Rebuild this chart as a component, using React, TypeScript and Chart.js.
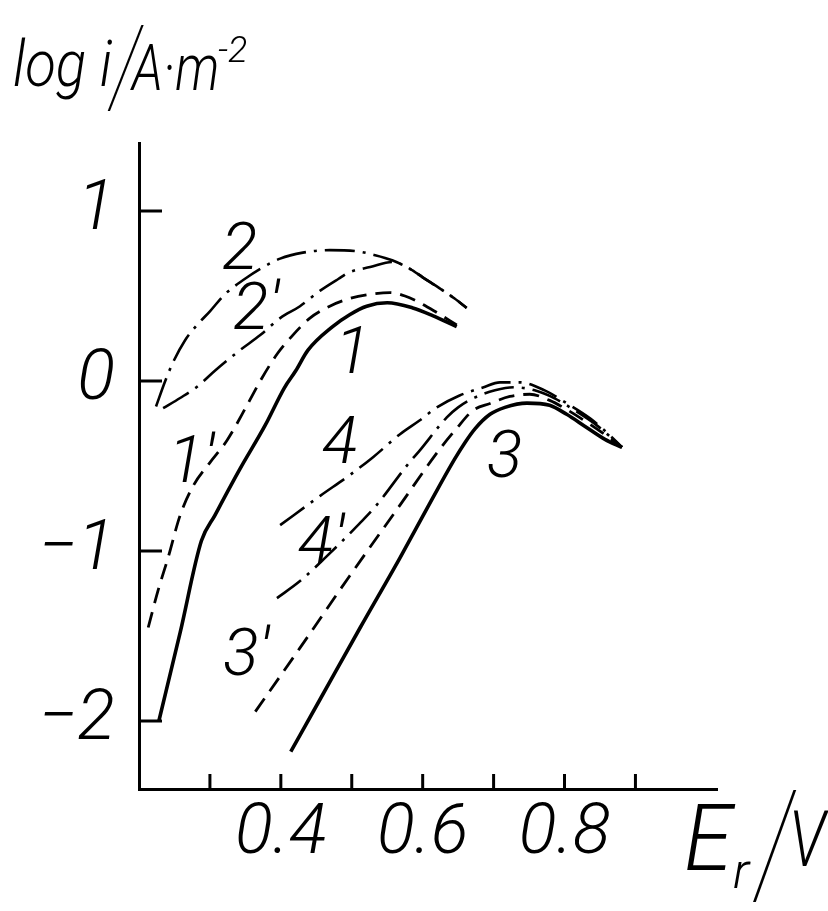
import React, { useEffect, useRef } from "react";
import { Chart, registerables } from "chart.js";

Chart.register(...registerables);

const FONT = "Roboto, 'DejaVu Sans', sans-serif";

// ---------- data (E_r / V  vs  log i / A·m^-2) ----------
// curve 1 (solid)
const curve1E = [0.228, 0.258, 0.288, 0.307, 0.342, 0.378, 0.405, 0.421, 0.438, 0.473, 0.497, 0.521, 0.55, 0.586, 0.614, 0.648];
const curve1Log = [-2.0, -1.48, -0.94, -0.79, -0.52, -0.26, -0.04, 0.06, 0.18, 0.32, 0.39, 0.44, 0.46, 0.43, 0.385, 0.32];

// curve 1' (dashed)
const curve1pE = [0.213, 0.227, 0.241, 0.258, 0.276, 0.3, 0.324, 0.354, 0.373, 0.395, 0.417, 0.441, 0.469, 0.497, 0.526, 0.554, 0.575, 0.596, 0.617, 0.648];
const curve1pLog = [-1.45, -1.23, -1.04, -0.79, -0.62, -0.48, -0.35, -0.13, 0.015, 0.16, 0.27, 0.37, 0.44, 0.485, 0.51, 0.52, 0.5, 0.46, 0.41, 0.33];

// curve 2 (dash-dot, upper)
const curve2E = [0.224, 0.237, 0.248, 0.265, 0.282, 0.3, 0.321, 0.349, 0.371, 0.399, 0.431, 0.469, 0.504, 0.533, 0.557, 0.582, 0.6, 0.624, 0.645, 0.662];
const curve2Log = [-0.15, 0.0, 0.11, 0.24, 0.33, 0.41, 0.51, 0.6, 0.66, 0.72, 0.755, 0.77, 0.765, 0.74, 0.71, 0.66, 0.61, 0.545, 0.485, 0.43];

// curve 2' (dash-dot, lower)
const curve2pE = [0.234, 0.258, 0.283, 0.307, 0.342, 0.371, 0.399, 0.427, 0.455, 0.481, 0.497, 0.526, 0.557, 0.582, 0.6, 0.624, 0.645, 0.662];
const curve2pLog = [-0.16, -0.1, -0.03, 0.06, 0.18, 0.27, 0.37, 0.44, 0.53, 0.6, 0.64, 0.67, 0.7, 0.66, 0.61, 0.545, 0.485, 0.43];

// curve 3 (solid)
const curve3E = [0.414, 0.455, 0.512, 0.568, 0.61, 0.645, 0.66, 0.674, 0.695, 0.716, 0.747, 0.779, 0.803, 0.829, 0.857, 0.881];
const curve3Log = [-2.18, -1.875, -1.45, -1.04, -0.72, -0.46, -0.36, -0.28, -0.196, -0.155, -0.13, -0.143, -0.196, -0.267, -0.343, -0.39];

// curve 3' (dashed)
const curve3pE = [0.364, 0.427, 0.497, 0.568, 0.624, 0.648, 0.671, 0.695, 0.723, 0.751, 0.779, 0.803, 0.836, 0.864, 0.881];
const curve3pLog = [-1.945, -1.57, -1.147, -0.73, -0.401, -0.278, -0.173, -0.132, -0.091, -0.078, -0.114, -0.168, -0.255, -0.337, -0.39];

// curve 4 (dash-dot, upper)
const curve4E = [0.399, 0.455, 0.497, 0.53, 0.568, 0.596, 0.62, 0.652, 0.685, 0.709, 0.737, 0.772, 0.803, 0.836, 0.864, 0.881];
const curve4Log = [-0.848, -0.677, -0.554, -0.448, -0.313, -0.231, -0.155, -0.085, -0.038, -0.008, -0.008, -0.055, -0.131, -0.22, -0.32, -0.39];

// curve 4' (dash-dot, lower)
const curve4pE = [0.3945, 0.427, 0.462, 0.5115, 0.535, 0.578, 0.596, 0.634, 0.65, 0.674, 0.702, 0.73, 0.758, 0.786, 0.8145, 0.8455, 0.881];
const curve4pLog = [-1.277, -1.177, -1.042, -0.836, -0.73, -0.496, -0.408, -0.214, -0.155, -0.096, -0.055, -0.037, -0.055, -0.102, -0.173, -0.261, -0.39];

// axis ticks
const xTickValues = [0.3, 0.4, 0.5, 0.6, 0.7, 0.8, 0.9];
const xTickLabels = ["", "0.4", "", "0.6", "", "0.8", ""];
const yTickValues = [-2, -1, 0, 1];
const yTickLabels = ["\u22122", "\u22121", "0", "1"];

// curve names and where they are written (E, log i)
const curveNames = ["1", "1'", "2", "2'", "3", "3'", "4", "4'"];
const nameE = [0.476, 0.241, 0.317, 0.3325, 0.6905, 0.3184, 0.458, 0.424];
const nameLog = [0.045, -0.596, 0.661, 0.3075, -0.566, -1.728, -0.484, -1.071];

// ---------- styles ----------
const SOLID: number[] = [];
const DASH = [16, 9];
const DASHDOT = [30, 8, 3, 8];

const seriesStyle = [
  { e: curve1E, log: curve1Log, dash: SOLID, width: 3.6 },
  { e: curve1pE, log: curve1pLog, dash: DASH, width: 2.8 },
  { e: curve2E, log: curve2Log, dash: DASHDOT, width: 2.6 },
  { e: curve2pE, log: curve2pLog, dash: DASHDOT, width: 2.6 },
  { e: curve3E, log: curve3Log, dash: SOLID, width: 3.6 },
  { e: curve3pE, log: curve3pLog, dash: DASH, width: 2.8 },
  { e: curve4E, log: curve4Log, dash: DASHDOT, width: 2.6 },
  { e: curve4pE, log: curve4pLog, dash: DASHDOT, width: 2.6 },
];

function piece(
  ctx: CanvasRenderingContext2D,
  text: string,
  x: number,
  y: number,
  size: number,
  sx = 1,
  sy = 1,
  weight = 300
) {
  ctx.save();
  ctx.translate(x, y);
  ctx.scale(sx, sy);
  ctx.font = `italic ${weight} ${size}px ${FONT}`;
  ctx.fillText(text, 0, 0);
  ctx.restore();
}

const decorPlugin = {
  id: "decor",
  afterDatasetsDraw(chart: any) {
    const { ctx, chartArea, scales } = chart;
    const xs = scales.x;
    const ys = scales.y;
    ctx.save();
    ctx.strokeStyle = "#000";
    ctx.lineWidth = 3;
    ctx.setLineDash([]);
    xTickValues.forEach((v) => {
      const px = xs.getPixelForValue(v);
      ctx.beginPath();
      ctx.moveTo(px, chartArea.bottom);
      ctx.lineTo(px, chartArea.bottom - 15);
      ctx.stroke();
    });
    yTickValues.forEach((v) => {
      const py = ys.getPixelForValue(v);
      ctx.beginPath();
      ctx.moveTo(chartArea.left, py);
      ctx.lineTo(chartArea.left + 23, py);
      ctx.stroke();
    });
    ctx.fillStyle = "#000";
    ctx.textAlign = "left";
    ctx.textBaseline = "alphabetic";
    curveNames.forEach((n, i) => {
      piece(ctx, n, xs.getPixelForValue(nameE[i]), ys.getPixelForValue(nameLog[i]), 66);
    });
    // y-axis title (top left)
    piece(ctx, "log i", 13, 86, 64, 0.88);
    piece(ctx, "/", 111, 104, 80, 1, 1.4, 100);
    piece(ctx, "A\u00B7m", 132, 90, 64, 0.8);
    piece(ctx, "-2", 218, 62, 36);
    // x-axis title (bottom right)
    piece(ctx, "E", 684, 870, 92, 0.95);
    piece(ctx, "r", 733, 888, 50);
    piece(ctx, "/", 757, 893, 96, 1, 1.5, 100);
    piece(ctx, "V", 789, 866, 78, 0.78);
    ctx.restore();
  },
};

export default function App() {
  const ref = useRef<HTMLCanvasElement | null>(null);
  useEffect(() => {
    if (!ref.current) return;
    const datasets = seriesStyle.map((s, i) => ({
      label: curveNames[i],
      data: s.e.map((e, k) => ({ x: e, y: s.log[k] })),
      borderColor: "#000",
      borderWidth: s.width,
      borderDash: s.dash,
      borderCapStyle: "butt" as const,
      pointRadius: 0,
      fill: false,
      cubicInterpolationMode: "monotone" as const,
    }));
    const tickFont = { family: FONT, size: 70, style: "italic" as const, weight: "300" as any };
    const chart = new Chart(ref.current, {
      type: "line",
      data: { datasets },
      plugins: [decorPlugin],
      options: {
        animation: false,
        responsive: true,
        maintainAspectRatio: false,
        layout: { padding: { left: 0, top: 143, right: 111, bottom: 0 } },
        plugins: { legend: { display: false }, tooltip: { enabled: false }, title: { display: false } },
        scales: {
          x: {
            type: "linear",
            min: 0.2,
            max: 1.015,
            grid: { display: false, drawTicks: false },
            border: { display: true, color: "#000", width: 3 },
            afterBuildTicks: (s: any) => {
              s.ticks = xTickValues.map((v) => ({ value: v }));
            },
            afterFit: (s: any) => {
              s.height = 122;
            },
            ticks: {
              autoSkip: false,
              maxRotation: 0,
              minRotation: 0,
              padding: 4,
              color: "#000",
              font: tickFont,
              callback: (_v: any, i: number) => xTickLabels[i],
            },
          },
          y: {
            type: "linear",
            min: -2.4,
            max: 1.4,
            grid: { display: false, drawTicks: false },
            border: { display: true, color: "#000", width: 3 },
            afterBuildTicks: (s: any) => {
              s.ticks = yTickValues.map((v) => ({ value: v }));
            },
            afterFit: (s: any) => {
              s.width = 139;
            },
            ticks: {
              autoSkip: false,
              padding: 24,
              color: "#000",
              font: tickFont,
              callback: (_v: any, i: number) => yTickLabels[i],
            },
          },
        },
      },
    });
    return () => chart.destroy();
  }, []);
  return (
    <div style={{ position: "fixed", left: 0, top: 0, width: 828, height: 911, background: "#fff" }}>
      <canvas ref={ref} />
    </div>
  );
}
